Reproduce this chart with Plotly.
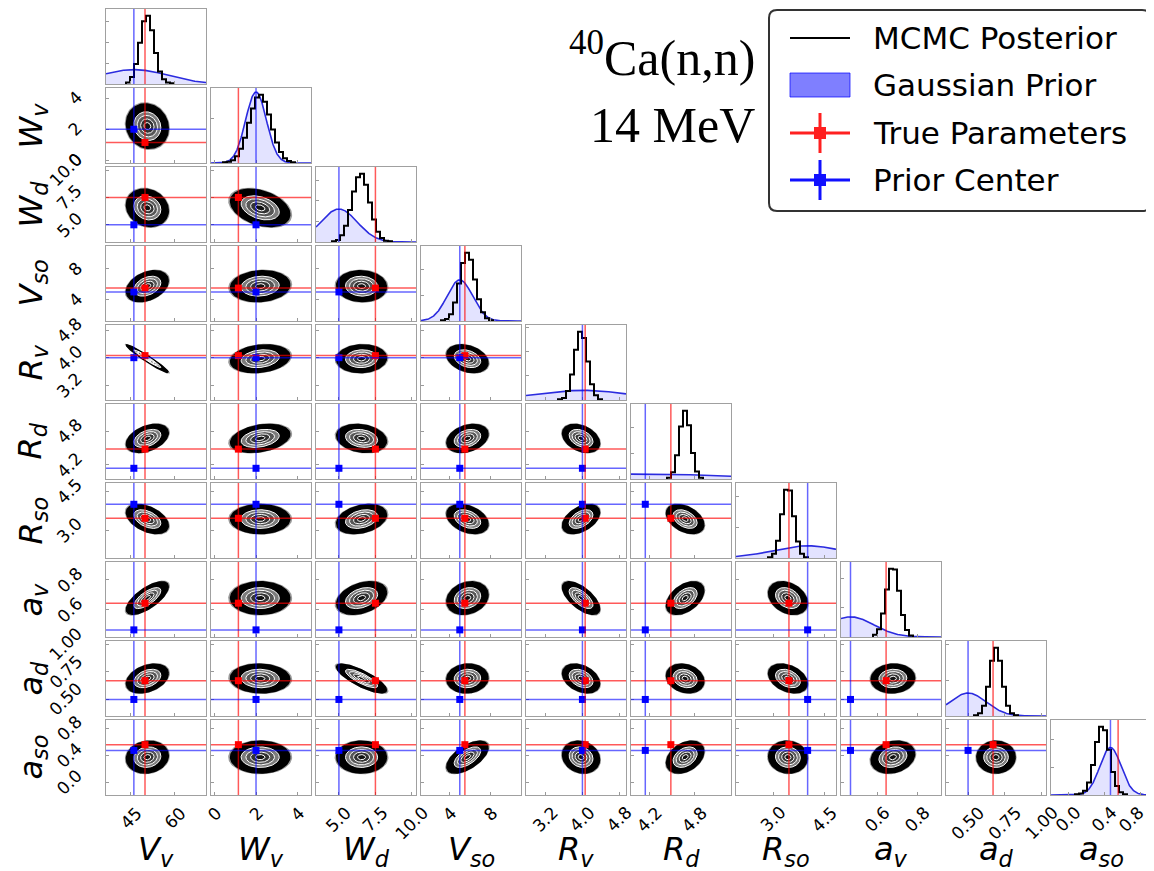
import numpy as np
import plotly.graph_objects as go

W, H = 1154, 871
OFF = 8  # default page margin of the written html

# ---------------- data ----------------
var_labels = ["<i>V</i><sub><i>v</i></sub>", "<i>W</i><sub><i>v</i></sub>", "<i>W</i><sub><i>d</i></sub>",
              "<i>V</i><sub><i>so</i></sub>", "<i>R</i><sub><i>v</i></sub>", "<i>R</i><sub><i>d</i></sub>",
              "<i>R</i><sub><i>so</i></sub>", "<i>a</i><sub><i>v</i></sub>", "<i>a</i><sub><i>d</i></sub>",
              "<i>a</i><sub><i>so</i></sub>"]

axis_lo = [36.5, -0.17, 3.43, 1.2, 2.77, 3.95, 1.93, 0.4175, 0.35, -0.19]
axis_hi = [70.6, 4.65, 10.28, 11.0, 4.95, 5.28, 4.82, 0.9175, 1.03, 0.92]

tick_vals = [[45, 60], [0, 2, 4], [5.0, 7.5, 10.0], [4, 8], [3.2, 4.0, 4.8], [4.2, 4.8],
             [3.0, 4.5], [0.6, 0.8], [0.5, 0.75, 1.0], [0.0, 0.4, 0.8]]
tick_text = [["45", "60"], ["0", "2", "4"], ["5.0", "7.5", "10.0"], ["4", "8"], ["3.2", "4.0", "4.8"],
             ["4.2", "4.8"], ["3.0", "4.5"], ["0.6", "0.8"], ["0.50", "0.75", "1.00"], ["0.0", "0.4", "0.8"]]

true_params = [49.8, 1.15, 7.5, 5.5, 4.06, 4.48, 3.46, 0.643, 0.67, 0.555]
prior_center = [46.0, 2.0, 5.0, 5.0, 4.0, 4.14, 4.0, 0.465, 0.5, 0.47]
prior_sd = [11.5, 0.5, 1.25, 1.25, 1.0, 1.035, 1.0, 0.116, 0.125, 0.1175]

post_mean = [50.6, 2.2, 6.55, 5.75, 3.97, 4.67, 3.43, 0.677, 0.69, 0.37]
post_sd = [2.3, 0.46, 0.55, 0.65, 0.13, 0.08, 0.18, 0.035, 0.042, 0.076]

# lower-triangle correlations (row i, columns 0..i-1)
post_corr = [
    [],
    [-0.1],
    [-0.15, -0.35],
    [0.35, 0.1, -0.05],
    [-0.97, 0.2, 0.05, -0.3],
    [0.4, 0.3, -0.2, 0.3, -0.35],
    [-0.45, 0.0, 0.3, -0.35, 0.45, -0.4],
    [0.7, 0.0, 0.35, 0.2, -0.65, 0.45, -0.3],
    [0.35, -0.05, -0.8, 0.05, -0.35, -0.2, -0.35, 0.05],
    [0.1, 0.0, 0.0, 0.6, -0.15, 0.35, -0.05, 0.2, 0.0],
]

# posterior histograms: 25 equal bins across each axis range (relative counts)
hist_counts = [
    [0, 0, 0, 0, 0, 2, 10, 29, 60, 91, 99, 78, 45, 18, 7, 2, 1, 0, 0, 0, 0, 0, 0, 0, 0],
    [0, 0, 0, 1, 2, 4, 10, 21, 37, 59, 80, 96, 100, 90, 71, 49, 30, 16, 7, 3, 1, 0, 0, 0, 0],
    [0, 0, 0, 0, 1, 3, 10, 24, 47, 74, 95, 100, 84, 58, 33, 15, 6, 2, 1, 0, 0, 0, 0, 0, 0],
    [0, 0, 0, 0, 0, 1, 3, 10, 27, 55, 85, 100, 90, 61, 32, 13, 4, 1, 0, 0, 0, 0, 0, 0, 0],
    [0, 0, 0, 0, 0, 0, 0, 0, 1, 3, 13, 37, 73, 99, 90, 56, 23, 7, 1, 0, 0, 0, 0, 0, 0],
    [0, 0, 0, 0, 0, 0, 0, 0, 0, 2, 10, 35, 77, 100, 79, 38, 11, 2, 0, 0, 0, 0, 0, 0, 0],
    [0, 0, 0, 0, 0, 0, 0, 0, 1, 6, 24, 61, 95, 94, 58, 23, 6, 1, 0, 0, 0, 0, 0, 0, 0],
    [0, 0, 0, 0, 0, 0, 0, 0, 3, 11, 33, 67, 96, 95, 65, 31, 10, 2, 0, 0, 0, 0, 0, 0, 0],
    [0, 0, 0, 0, 0, 0, 0, 1, 4, 15, 43, 81, 100, 81, 43, 15, 4, 1, 0, 0, 0, 0, 0, 0, 0],
    [0, 0, 0, 0, 0, 0, 1, 2, 6, 18, 43, 76, 98, 93, 65, 33, 13, 4, 1, 0, 0, 0, 0, 0, 0],
]

legend_labels = ["MCMC Posterior", "Gaussian Prior", "True Parameters", "Prior Center"]
title_lines = ["<sup>40</sup>Ca(n,n)", "14 MeV"]

# ---------------- styling / layout helpers ----------------
NV = len(var_labels)
FRAME = "#a0a0a0"
RED_LINE = "rgba(255,0,0,0.65)"
BLUE_LINE = "rgba(0,0,255,0.6)"
contour_levels = [2.0, 1.5, 1.0, 0.5]
contour_fills = ["#7c7c7c", "#565656", "#333333", "#121212"]
BLOB_K = 3.1
HALO_K = 3.35

FW, FH = W - OFF, H - OFF


def px_x(p):
    return (p - OFF) / FW


def px_y(p):
    return 1 - (p - OFF) / FH


def xdom(j):
    return [px_x(106 + 105 * j), px_x(206 + 105 * j)]


def ydom(i):
    top = 9 + 79 * i
    return [px_y(top + 75), px_y(top)]


tt = np.linspace(0, 2 * np.pi, 120)


def ellipse(mx, my, sx, sy, rho, k):
    x = mx + k * sx * np.cos(tt)
    y = my + k * sy * (rho * np.cos(tt) + np.sqrt(1 - rho ** 2) * np.sin(tt))
    return x, y


fig = go.Figure()
layout = {}
shapes = []
annotations = []

n = 0
panel_id = {}
for i in range(NV):
    for j in range(i + 1):
        n += 1
        panel_id[(i, j)] = n
        xa = "x" if n == 1 else f"x{n}"
        ya = "y" if n == 1 else f"y{n}"
        xkey = "xaxis" if n == 1 else f"xaxis{n}"
        ykey = "yaxis" if n == 1 else f"yaxis{n}"
        common = dict(showline=True, mirror=True, linecolor=FRAME, linewidth=1, showgrid=False,
                      zeroline=False, ticks="inside", ticklen=3, tickcolor="#999999",
                      showticklabels=False, fixedrange=True)
        layout[xkey] = dict(domain=xdom(j), anchor=ya, range=[axis_lo[j], axis_hi[j]],
                            tickvals=tick_vals[j], **common)
        if i == j:
            lo = axis_lo[i]
            w = (axis_hi[i] - axis_lo[i]) / len(hist_counts[i])
            counts = np.array(hist_counts[i], dtype=float)
            dens = counts / (counts.sum() * w)
            ymax = 1.1 * dens.max()
            layout[ykey] = dict(domain=ydom(i), anchor=xa, range=[0, ymax], nticks=4, **common)
            # Gaussian prior
            xg = np.linspace(axis_lo[i], axis_hi[i], 300)
            yg = np.exp(-0.5 * ((xg - prior_center[i]) / prior_sd[i]) ** 2) / (prior_sd[i] * np.sqrt(2 * np.pi))
            fig.add_trace(go.Scatter(x=xg, y=yg, mode="lines", fill="tozeroy",
                                     fillcolor="rgba(0,0,255,0.11)", line=dict(color="#2b2bdf", width=1.6),
                                     hoverinfo="skip", xaxis=xa, yaxis=ya))
            # step histogram (trim empty bins)
            nz = np.nonzero(counts)[0]
            a, b = nz[0], nz[-1]
            xs, ys = [lo + a * w], [0]
            for k in range(a, b + 1):
                xs += [lo + k * w, lo + (k + 1) * w]
                ys += [dens[k], dens[k]]
            xs.append(lo + (b + 1) * w)
            ys.append(0)
            fig.add_trace(go.Scatter(x=xs, y=ys, mode="lines", line=dict(color="black", width=2),
                                     hoverinfo="skip", xaxis=xa, yaxis=ya))
            for val, col in ((true_params[i], RED_LINE), (prior_center[i], BLUE_LINE)):
                shapes.append(dict(type="line", xref=xa, yref=f"{ya} domain", x0=val, x1=val, y0=0, y1=1,
                                   line=dict(color=col, width=1.5)))
        else:
            layout[ykey] = dict(domain=ydom(i), anchor=xa, range=[axis_lo[i], axis_hi[i]],
                                tickvals=tick_vals[i], **common)
            rho = post_corr[i][j]
            mx, my, sx, sy = post_mean[j], post_mean[i], post_sd[j], post_sd[i]
            ex, ey = ellipse(mx, my, sx, sy, rho, HALO_K)
            fig.add_trace(go.Scatter(x=ex, y=ey, mode="lines", fill="toself", fillcolor="rgba(0,0,0,0.4)",
                                     line=dict(width=0), hoverinfo="skip", xaxis=xa, yaxis=ya))
            ex, ey = ellipse(mx, my, sx, sy, rho, BLOB_K)
            fig.add_trace(go.Scatter(x=ex, y=ey, mode="lines", fill="toself", fillcolor="black",
                                     line=dict(color="black", width=1.5), hoverinfo="skip",
                                     xaxis=xa, yaxis=ya))
            for lev, fc in zip(contour_levels, contour_fills):
                ex, ey = ellipse(mx, my, sx, sy, rho, lev)
                fig.add_trace(go.Scatter(x=ex, y=ey, mode="lines", fill="toself", fillcolor=fc,
                                         line=dict(color="white", width=1.0), hoverinfo="skip",
                                         xaxis=xa, yaxis=ya))
            for vx, vy, col in ((true_params[j], true_params[i], RED_LINE),
                                (prior_center[j], prior_center[i], BLUE_LINE)):
                shapes.append(dict(type="line", xref=xa, yref=f"{ya} domain", x0=vx, x1=vx, y0=0, y1=1,
                                   line=dict(color=col, width=1.5)))
                shapes.append(dict(type="line", xref=f"{xa} domain", yref=ya, x0=0, x1=1, y0=vy, y1=vy,
                                   line=dict(color=col, width=1.5)))
            fig.add_trace(go.Scatter(x=[true_params[j]], y=[true_params[i]], mode="markers",
                                     marker=dict(symbol="square", size=7, color="red"),
                                     hoverinfo="skip", xaxis=xa, yaxis=ya, cliponaxis=False))
            fig.add_trace(go.Scatter(x=[prior_center[j]], y=[prior_center[i]], mode="markers",
                                     marker=dict(symbol="square", size=7, color="blue"),
                                     hoverinfo="skip", xaxis=xa, yaxis=ya, cliponaxis=False))

# ---------------- tick labels & axis titles ----------------
TICK_FONT = dict(family="DejaVu Sans", size=17, color="black")
TITLE_FONT = dict(family="DejaVu Sans", size=32, color="black")
for j in range(NV):
    n = panel_id[(NV - 1, j)]
    xa = "x" if n == 1 else f"x{n}"
    for v, t in zip(tick_vals[j], tick_text[j]):
        ann = dict(x=v, xref=xa, y=px_y(800), yref="paper", text=t, showarrow=False,
                   textangle=-45, xanchor="center", yanchor="top", font=TICK_FONT)
        if j == NV - 1 and v == tick_vals[j][-1]:
            ann["xanchor"] = "right"
            ann["x"] = axis_hi[j]
        annotations.append(ann)
    annotations.append(dict(x=(xdom(j)[0] + xdom(j)[1]) / 2, xref="paper", y=px_y(851), yref="paper",
                            text=var_labels[j], showarrow=False, xanchor="center", yanchor="middle",
                            font=TITLE_FONT))
for i in range(1, NV):
    n = panel_id[(i, 0)]
    ya = f"y{n}"
    for v, t in zip(tick_vals[i], tick_text[i]):
        annotations.append(dict(x=px_x(89), xref="paper", y=v, yref=ya, text=t, showarrow=False,
                                textangle=-45, xanchor="right", yanchor="middle", font=TICK_FONT))
    annotations.append(dict(x=px_x(32), xref="paper", y=(ydom(i)[0] + ydom(i)[1]) / 2, yref="paper",
                            text=var_labels[i], showarrow=False, textangle=-90, xanchor="center",
                            yanchor="middle", font=TITLE_FONT))

# ---------------- title text ----------------
SERIF = dict(family="Liberation Serif", size=50, color="black")
annotations.append(dict(x=px_x(757), y=px_y(55), xref="paper", yref="paper", text=title_lines[0],
                        showarrow=False, xanchor="right", yanchor="middle", font=SERIF))
annotations.append(dict(x=px_x(757), y=px_y(125), xref="paper", yref="paper", text=title_lines[1],
                        showarrow=False, xanchor="right", yanchor="middle", font=SERIF))

# ---------------- custom legend ----------------
bx0, bx1, by0, by1, r = 769, 1150, 10, 211, 8
path = (f"M {px_x(bx0 + r)},{px_y(by0)} L {px_x(bx1 - r)},{px_y(by0)} "
        f"Q {px_x(bx1)},{px_y(by0)} {px_x(bx1)},{px_y(by0 + r)} "
        f"L {px_x(bx1)},{px_y(by1 - r)} Q {px_x(bx1)},{px_y(by1)} {px_x(bx1 - r)},{px_y(by1)} "
        f"L {px_x(bx0 + r)},{px_y(by1)} Q {px_x(bx0)},{px_y(by1)} {px_x(bx0)},{px_y(by1 - r)} "
        f"L {px_x(bx0)},{px_y(by0 + r)} Q {px_x(bx0)},{px_y(by0)} {px_x(bx0 + r)},{px_y(by0)} Z")
shapes.append(dict(type="path", xref="paper", yref="paper", path=path, fillcolor="white",
                   line=dict(color="#333333", width=2), layer="above"))
rows_y = [38, 85, 133, 180]
LEG_FONT = dict(family="DejaVu Sans", size=31, color="black")
for lab, yy in zip(legend_labels, rows_y):
    annotations.append(dict(x=px_x(871), y=px_y(yy), xref="paper", yref="paper", text=lab,
                            showarrow=False, xanchor="left", yanchor="middle", font=LEG_FONT))
# MCMC line
shapes.append(dict(type="line", xref="paper", yref="paper", x0=px_x(790), x1=px_x(850),
                   y0=px_y(rows_y[0]), y1=px_y(rows_y[0]), line=dict(color="black", width=2.2), layer="above"))
# Gaussian prior patch
shapes.append(dict(type="rect", xref="paper", yref="paper", x0=px_x(790), x1=px_x(850),
                   y0=px_y(rows_y[1] + 12), y1=px_y(rows_y[1] - 12), fillcolor="rgba(0,0,255,0.5)",
                   line=dict(color="rgba(0,0,255,0.7)", width=1), layer="above"))
# error-bar crosses
for yy, col in ((rows_y[2], "#ff2020"), (rows_y[3], "#1010ff")):
    shapes.append(dict(type="line", xref="paper", yref="paper", x0=px_x(790), x1=px_x(850),
                       y0=px_y(yy), y1=px_y(yy), line=dict(color=col, width=3), layer="above"))
    shapes.append(dict(type="line", xref="paper", yref="paper", x0=px_x(820), x1=px_x(820),
                       y0=px_y(yy - 20), y1=px_y(yy + 20), line=dict(color=col, width=3), layer="above"))
    shapes.append(dict(type="rect", xref="paper", yref="paper", x0=px_x(814), x1=px_x(826),
                       y0=px_y(yy + 6), y1=px_y(yy - 6), fillcolor=col, line=dict(width=0), layer="above"))

fig.update_layout(width=FW, height=FH, margin=dict(l=0, r=0, t=0, b=0, autoexpand=False),
                  plot_bgcolor="white", paper_bgcolor="white", showlegend=False,
                  shapes=shapes, annotations=annotations, **layout)
fig.write_html("out.html")
